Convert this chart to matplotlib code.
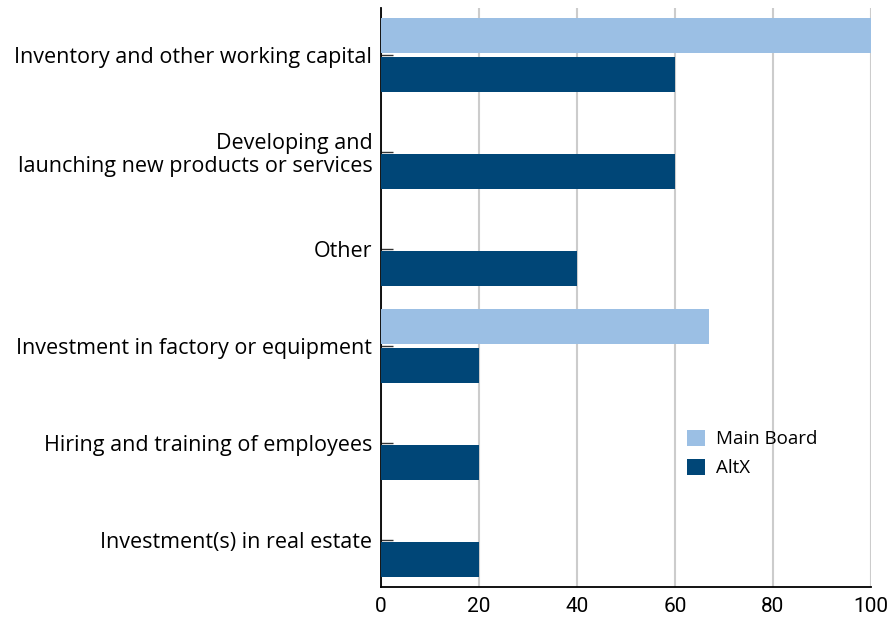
import numpy as np
import matplotlib.pyplot as plt

categories = [
    "Inventory and other working capital",
    "Developing and\nlaunching new products or services",
    "Other",
    "Investment in factory or equipment",
    "Hiring and training of employees",
    "Investment(s) in real estate",
]
main_board = [100, 0, 0, 67, 0, 0]
altx = [60, 60, 40, 20, 20, 20]
xticks = [0, 20, 40, 60, 80, 100]

fig = plt.figure(figsize=(8.92, 6.2), dpi=100)
ax = fig.add_axes([0.4268, 0.0532, 0.5497, 0.934])

y = np.arange(len(categories))
h = 0.36
ax.barh(y - 0.205, main_board, height=h, color='#9bbfe4', label='Main Board', zorder=3)
ax.barh(y + 0.205, altx, height=h, color='#004677', label='AltX', zorder=3)

ax.set_ylim(len(categories) - 1 + 0.485, -0.485)
ax.set_xlim(0, 100)
ax.set_xticks(xticks)
ax.set_yticks(y)
ax.set_yticklabels(categories, fontsize=15.5, family='Open Sans', ha='right',
                   linespacing=1.12)
ax.tick_params(axis='y', direction='in', length=8.5, width=1, pad=6, color='#333333')
ax.tick_params(axis='x', length=0, labelsize=15, pad=7)
for lab in ax.get_xticklabels():
    lab.set_family('Roboto')
for lab in ax.get_yticklabels():
    lab.set_multialignment('right')

ax.grid(axis='x', color='#cccccc', lw=1.5, zorder=0)
for s in ['top', 'right']:
    ax.spines[s].set_visible(False)
ax.spines['left'].set_linewidth(1.3)
ax.spines['bottom'].set_linewidth(1.3)

leg = ax.legend(loc='upper left', bbox_to_anchor=(0.751, 0.234, 0.2, 0.1),
                bbox_transform=fig.transFigure, frameon=False,
                prop={'family': 'Open Sans', 'size': 13.5},
                handlelength=0.95, handleheight=0.95, handletextpad=0.6,
                labelspacing=0.55)

plt.savefig('out.png', dpi=100)
